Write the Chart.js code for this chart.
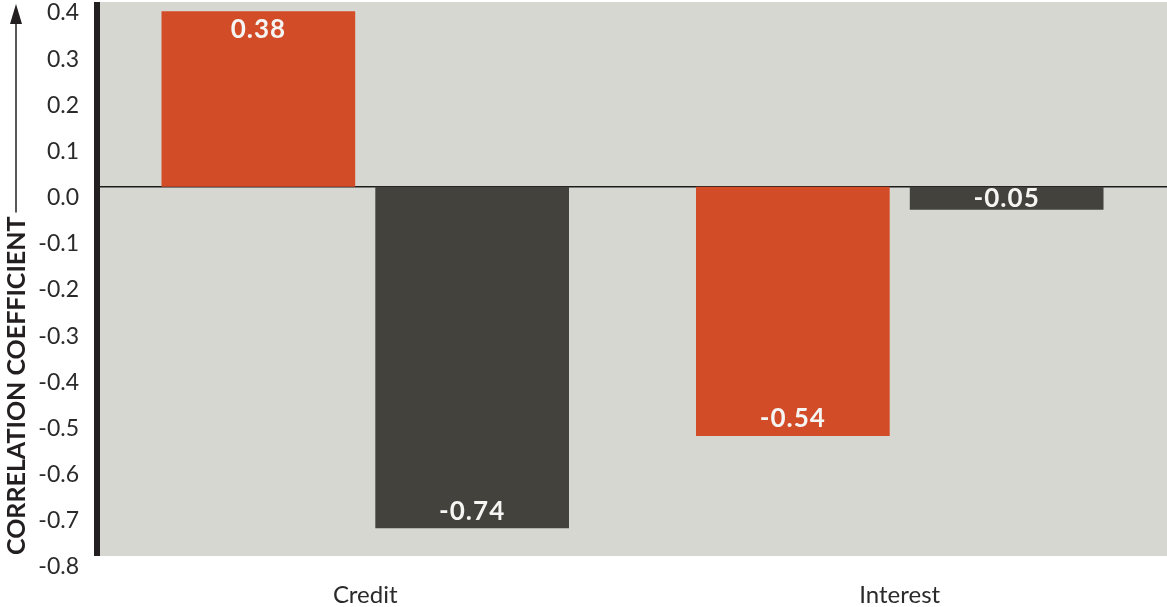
<!DOCTYPE html>
<html>
<head>
<meta charset="utf-8">
<style>
  html, body { margin: 0; padding: 0; background: #ffffff; }
  #wrap { width: 1167px; height: 607px; }
</style>
<script src="https://cdn.jsdelivr.net/npm/chart.js@4/dist/chart.umd.min.js"></script>
</head>
<body>
<div id="wrap"><canvas id="chart" width="1167" height="607"></canvas></div>
<script>
// Correlation of each factor with the two measures
const categories = ['Credit', 'Interest'];
const orangeValues = [0.38, -0.54];
const darkValues = [-0.74, -0.05];

// Value axis range and step
const yMin = -0.8;
const yMax = 0.4;
const yStep = 0.1;

const yTitle = 'CORRELATION COEFFICIENT';

const COLORS = {
  orange: '#d34c28',
  dark: '#43423c',
  panel: '#d7d7d2',
  axis: '#231f20',
  text: '#2a2a2a',
  label: '#f5f5f3'
};

// Grey panel behind the plot
const panelPlugin = {
  id: 'panel',
  beforeDraw(chart) {
    const { ctx, chartArea: a } = chart;
    ctx.save();
    ctx.fillStyle = '#ffffff';
    ctx.fillRect(0, 0, chart.width, chart.height);
    ctx.fillStyle = COLORS.panel;
    ctx.fillRect(a.left, a.top, a.right - a.left, a.bottom - a.top);
    ctx.restore();
  }
};

// Thick left axis, rotated title with arrow, and value labels inside the bars
const decorPlugin = {
  id: 'decor',
  afterDraw(chart) {
    const { ctx, chartArea: a } = chart;
    ctx.save();

    // left axis bar
    ctx.fillStyle = COLORS.axis;
    ctx.fillRect(a.left - 4, a.top, 6, a.bottom - a.top);

    // axis title reading upward, followed by an arrow
    const tx = 16;
    const tStart = 555;
    ctx.save();
    ctx.translate(tx, tStart);
    ctx.rotate(-Math.PI / 2);
    ctx.font = 'bold 25px Lato';
    ctx.fillStyle = COLORS.axis;
    ctx.textAlign = 'left';
    ctx.textBaseline = 'middle';
    ctx.fillText(yTitle, 0, 1);
    const w = ctx.measureText(yTitle).width;
    ctx.restore();

    const lineStart = tStart - w - 4;
    ctx.strokeStyle = COLORS.axis;
    ctx.lineWidth = 1.5;
    ctx.beginPath();
    ctx.moveTo(tx, lineStart);
    ctx.lineTo(tx, 18);
    ctx.stroke();
    ctx.fillStyle = COLORS.axis;
    ctx.beginPath();
    ctx.moveTo(tx, 4);
    ctx.lineTo(tx - 6, 24);
    ctx.lineTo(tx + 6, 24);
    ctx.closePath();
    ctx.fill();

    // value labels
    ctx.font = 'bold 26px Lato';
    ctx.fillStyle = COLORS.label;
    ctx.textAlign = 'center';
    ctx.textBaseline = 'middle';
    if ('letterSpacing' in ctx) ctx.letterSpacing = '1px';
    chart.data.datasets.forEach((ds, di) => {
      const meta = chart.getDatasetMeta(di);
      meta.data.forEach((bar, i) => {
        const v = ds.data[i];
        const top = Math.min(bar.y, bar.base);
        const bottom = Math.max(bar.y, bar.base);
        let y;
        if (bottom - top < 40) y = (top + bottom) / 2;
        else if (v >= 0) y = top + 18;
        else y = bottom - 17;
        ctx.fillText(v.toFixed(2), bar.x, y);
      });
    });
    ctx.restore();
  }
};

new Chart(document.getElementById('chart'), {
  type: 'bar',
  data: {
    labels: categories,
    datasets: [
      {
        data: orangeValues,
        backgroundColor: COLORS.orange,
        barPercentage: 0.906,
        categoryPercentage: 0.8
      },
      {
        data: darkValues,
        backgroundColor: COLORS.dark,
        barPercentage: 0.906,
        categoryPercentage: 0.8
      }
    ]
  },
  options: {
    responsive: false,
    devicePixelRatio: 1,
    animation: false,
    layout: { padding: { top: 2, left: 0, right: 0, bottom: 0 } },
    plugins: {
      legend: { display: false },
      tooltip: { enabled: false }
    },
    scales: {
      x: {
        grid: { display: false },
        border: { display: false },
        ticks: {
          color: COLORS.text,
          font: { family: 'Lato', size: 24 },
          padding: 17
        },
        afterFit(scale) {
          scale.height = 51;
          scale.paddingLeft = 0;
          scale.paddingRight = 0;
        }
      },
      y: {
        min: yMin,
        max: yMax,
        border: { display: false },
        grid: {
          drawTicks: false,
          lineWidth: 1.5,
          color: (c) => (c.tick && Math.abs(c.tick.value) < 1e-9 ? '#1c1c1c' : 'rgba(0,0,0,0)')
        },
        ticks: {
          stepSize: yStep,
          color: COLORS.text,
          font: { family: 'Lato', size: 23 },
          padding: 19,
          labelOffset: 11,
          callback: (v) => (Math.abs(v) < 1e-9 ? '0.0' : Number(v).toFixed(1))
        },
        afterFit(scale) {
          scale.width = 98;
          scale.paddingTop = 0;
          scale.paddingBottom = 0;
        }
      }
    }
  },
  plugins: [panelPlugin, decorPlugin]
});
</script>
</body>
</html>
